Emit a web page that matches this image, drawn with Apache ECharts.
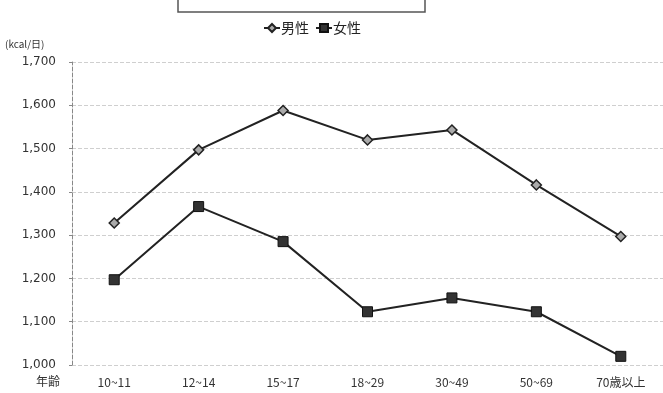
<!DOCTYPE html>
<html><head><meta charset="utf-8">
<script src="https://cdn.jsdelivr.net/npm/echarts@6/dist/echarts.min.js"></script>
<style>html,body{margin:0;padding:0;background:#fff}#c{width:663px;height:393px}</style>
</head><body><div id="c"></div>
<script>
const categories = ['10~11','12~14','15~17','18~29','30~49','50~69','70歳以上'];
const male = [1328, 1497, 1588, 1520, 1543, 1416, 1297];
const female = [1197, 1366, 1285, 1123, 1155, 1123, 1020];
const yTicks = {min: 1000, max: 1700, interval: 100};
const seriesNames = ['男性', '女性'];
const unitLabel = '(kcal/日)';
const axisName = '年齢';

const font = '"Noto Sans CJK JP", "DejaVu Sans", sans-serif';
const chart = echarts.init(document.getElementById('c'));
chart.setOption({
  animation: false,
  backgroundColor: '#fff',
  legend: {
    top: 16, left: 258, itemGap: 6, itemWidth: 16, itemHeight: 10,
    textStyle: {fontFamily: font, fontSize: 14, color: '#222', padding: [0, 0, 0, -4]},
    data: [seriesNames[0], seriesNames[1]]
  },
  grid: {left: 72, top: 62, width: 601, height: 303},
  xAxis: {
    type: 'category', data: categories, boundaryGap: true,
    axisLine: {show: false}, axisTick: {show: false},
    axisLabel: {color: '#333', fontFamily: font, fontSize: 12, margin: 11}
  },
  yAxis: {
    type: 'value', min: yTicks.min, max: yTicks.max, interval: yTicks.interval,
    axisLine: {show: true, lineStyle: {color: '#888', type: 'dashed', width: 1}},
    axisTick: {show: true, length: 3, lineStyle: {color: '#888'}},
    axisLabel: {color: '#333', fontFamily: '"DejaVu Sans", sans-serif', fontSize: 12, margin: 16,
      formatter: v => v.toLocaleString('en-US')},
    splitLine: {show: true, lineStyle: {color: '#cfcfcf', type: 'dashed', width: 1}}
  },
  graphic: [
    {type: 'rect', shape: {x: 178, y: -8, width: 247, height: 20}, style: {fill: 'none', stroke: '#555', lineWidth: 1.5}},
    {type: 'text', left: 5, top: 39, style: {text: unitLabel, fontFamily: font, fontSize: 10, fill: '#333'}},
    {type: 'text', left: 36, top: 375, style: {text: axisName, fontFamily: font, fontSize: 12, fill: '#333'}}
  ],
  series: [
    {name: seriesNames[0], type: 'line', data: male, symbol: 'diamond', symbolSize: 10,
      lineStyle: {color: '#222', width: 2}, itemStyle: {color: '#aaa', borderColor: '#222', borderWidth: 1.5}},
    {name: seriesNames[1], type: 'line', data: female, symbol: 'rect', symbolSize: 10,
      lineStyle: {color: '#222', width: 2}, itemStyle: {color: '#333', borderColor: '#111', borderWidth: 1}}
  ]
});
</script></body></html>
